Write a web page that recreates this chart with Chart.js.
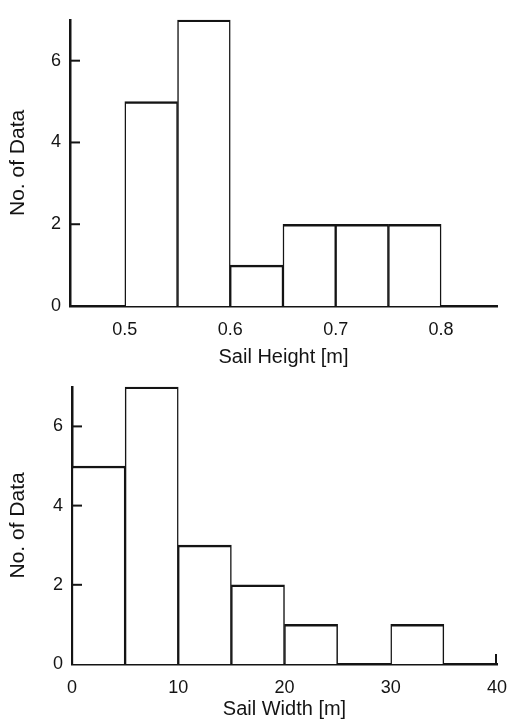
<!DOCTYPE html>
<html lang="en">
<head>
<meta charset="utf-8"/>
<title>Sail Height / Sail Width</title>
<script src="https://cdn.jsdelivr.net/npm/chart.js"></script>
<style>
    body { margin: 0; background: #fff; }
    .wrap { position: relative; width: 509px; height: 725px; }
    .box { position: absolute; left: 0; width: 509px; }
  </style>
</head>
<body>
<div class="wrap">
<div class="box" style="top:0;height:367px"><canvas id="heightChart"></canvas></div>
<div class="box" style="top:367px;height:358px"><canvas id="widthChart"></canvas></div>
</div>
<script>
    // histogram data (bin start, count)
    const heightBins = [0.5, 0.55, 0.6, 0.65, 0.7, 0.75];
    const heightCounts = [5, 7, 1, 2, 2, 2];
    const heightBinSize = 0.05;
    const heightTicks = [0.5, 0.6, 0.7, 0.8];

    const widthBins = [0, 5, 10, 15, 20, 25, 30];
    const widthCounts = [5, 7, 3, 2, 1, 0, 1];
    const widthBinSize = 5;
    const widthTicks = [0, 10, 20, 30, 40];

    const countTicks = [0, 2, 4, 6];

    const ink = '#141414';
    const family = '"Liberation Sans", Arial, Helvetica, sans-serif';

    // small inward tick marks on the y axis (and the little end mark on the x axis)
    const inwardTicks = {
      id: 'inwardTicks',
      afterDraw(chart, args, o) {
        const { ctx, chartArea, scales } = chart;
        ctx.save();
        ctx.strokeStyle = ink;
        ctx.lineWidth = 2;
        scales.y.ticks.forEach(t => {
          if (t.value === 0) return;
          const y = scales.y.getPixelForValue(t.value);
          ctx.beginPath();
          ctx.moveTo(chartArea.left, y);
          ctx.lineTo(chartArea.left + 10, y);
          ctx.stroke();
        });
        if (o.endTick) {
          const x = scales.x.getPixelForValue(scales.x.max) - 1;
          ctx.beginPath();
          ctx.moveTo(x, chartArea.bottom);
          ctx.lineTo(x, chartArea.bottom - 10);
          ctx.stroke();
        }
        ctx.restore();
      }
    };

    function makeHist(id, bins, counts, binSize, ticks, cfg) {
      const points = bins.map((b, i) => ({ x: b + binSize / 2, y: counts[i] }));
      return new Chart(document.getElementById(id), {
        type: 'bar',
        data: {
          datasets: [{
            data: points,
            backgroundColor: '#ffffff',
            borderColor: ink,
            borderWidth: { top: 2.5, left: 1.5, right: 1.5, bottom: 0 },
            borderSkipped: false,
            barPercentage: 1,
            categoryPercentage: 1
          }]
        },
        plugins: [inwardTicks],
        options: {
          responsive: true,
          maintainAspectRatio: false,
          animation: false,
          layout: { padding: { top: cfg.padTop, right: 12, left: 0, bottom: 0 } },
          plugins: {
            legend: { display: false },
            tooltip: { enabled: false },
            inwardTicks: { endTick: cfg.endTick }
          },
          scales: {
            x: {
              type: 'linear',
              offset: false,
              min: cfg.xMin,
              max: cfg.xMax,
              grid: { display: false, drawTicks: false },
              border: { display: true, color: ink, width: 2.5 },
              afterBuildTicks: s => { s.ticks = ticks.map(v => ({ value: v })); },
              afterFit: s => { s.height = cfg.xHeight; s.paddingLeft = 0; s.paddingRight = 0; },
              ticks: {
                color: ink,
                padding: 13,
                maxRotation: 0,
                font: { family: family, size: 18 },
                callback: cfg.fmt
              },
              title: {
                display: true,
                text: cfg.xTitle,
                color: ink,
                font: { family: family, size: 20, lineHeight: 1 },
                padding: { top: 0, bottom: cfg.titlePad }
              }
            },
            y: {
              min: 0,
              max: 7,
              grid: { display: false, drawTicks: false },
              border: { display: true, color: ink, width: 2.5 },
              afterBuildTicks: s => { s.ticks = countTicks.map(v => ({ value: v })); },
              afterFit: s => { s.width = cfg.yWidth; },
              ticks: {
                color: ink,
                padding: 9,
                font: { family: family, size: 18 }
              },
              title: {
                display: true,
                text: 'No. of Data',
                color: ink,
                font: { family: family, size: 21, lineHeight: 1 },
                padding: { top: 8, bottom: 0 }
              }
            }
          }
        }
      });
    }

    makeHist('heightChart', heightBins, heightCounts, heightBinSize, heightTicks, {
      xMin: 0.448, xMax: 0.853, padTop: 12, xHeight: 61, yWidth: 70, titlePad: 0,
      xTitle: 'Sail Height [m]', endTick: false, fmt: v => v.toFixed(1)
    });

    makeHist('widthChart', widthBins, widthCounts, widthBinSize, widthTicks, {
      xMin: 0, xMax: 40, padTop: 6, xHeight: 61, yWidth: 72, titlePad: 6,
      xTitle: 'Sail Width [m]', endTick: true, fmt: v => String(v)
    });
  </script>
</body>
</html>
